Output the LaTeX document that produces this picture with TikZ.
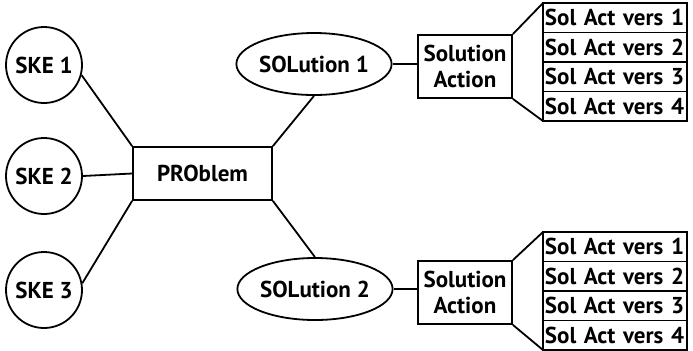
\documentclass[tikz,border=0pt]{standalone}
\usepackage{fontspec}
\setmainfont{PT Sans}
\usepackage{tikz}
\usetikzlibrary{positioning,shapes.geometric}

\begin{document}
\begin{tikzpicture}[
      x=0.5pt, y=-0.5pt,
      font=\fontsize{11.5}{13}\selectfont\bfseries,
      every node/.style={align=center},
      every path/.style={line width=0.9pt},
      ske/.style={
        draw, circle, minimum size=38pt, inner sep=0pt,
      },
      prob/.style={
        draw, rectangle, minimum width=69.5pt, minimum height=26.5pt,
      },
      sol/.style={
        draw, ellipse, minimum width=76pt, minimum height=31pt, inner sep=0pt,
      },
      solact/.style={
        draw, rectangle, minimum width=47pt, minimum height=31.5pt,
        inner sep=1pt,
      },
      vers/.style={
        draw, rectangle, minimum width=72pt, minimum height=14.75pt,
        inner sep=0pt, outer sep=0pt, text width=70pt, align=left,
      },
    ]
    \useasboundingbox (0,0) rectangle (693,350);

    % Stakeholders on the left
    \node[ske] (ske1) at (44,65)  {SKE 1};
    \node[ske] (ske2) at (44,176) {SKE 2};
    \node[ske] (ske3) at (44,290) {SKE 3};

    % Problem in the middle
    \node[prob] (prob) at (202.5,173.5) {PROblem};

    % The two solutions
    \node[sol] (sol1) at (314,64)  {SOLution 1};
    \node[sol] (sol2) at (315,289) {SOLution 2};

    % Solution actions
    \node[solact] (act1) at (465,66.5)  {Solution\\Action};
    \node[solact] (act2) at (465,292.5) {Solution\\Action};

    % Versions, stacked rows
    \node[vers, anchor=north west] (v11) at (543,3) {Sol Act vers 1};
    \node[vers, below=0pt of v11] (v12) {Sol Act vers 2};
    \node[vers, below=0pt of v12] (v13) {Sol Act vers 3};
    \node[vers, below=0pt of v13] (v14) {Sol Act vers 4};

    \node[vers, anchor=north west] (v21) at (543,232) {Sol Act vers 1};
    \node[vers, below=0pt of v21] (v22) {Sol Act vers 2};
    \node[vers, below=0pt of v22] (v23) {Sol Act vers 3};
    \node[vers, below=0pt of v23] (v24) {Sol Act vers 4};

    % Stakeholders -> problem
    \draw (ske1.-15) -- (prob.north west);
    \draw (ske2.east) -- (prob.west);
    \draw (ske3.10)  -- (prob.south west);

    % Problem -> solutions
    \draw (prob.north east) -- (sol1.south);
    \draw (prob.south east) -- (sol2.north);

    % Solutions -> actions
    \draw (sol1.east) -- (sol1.east -| act1.west);
    \draw (sol2.east) -- (sol2.east -| act2.west);

    % Actions fan out to the version lists
    \draw (act1.north east) -- (v11.north west);
    \draw (act1.south east) -- (v14.south west);
    \draw (act2.north east) -- (v21.north west);
    \draw (act2.south east) -- (v24.south west);

  \end{tikzpicture}
\end{document}
